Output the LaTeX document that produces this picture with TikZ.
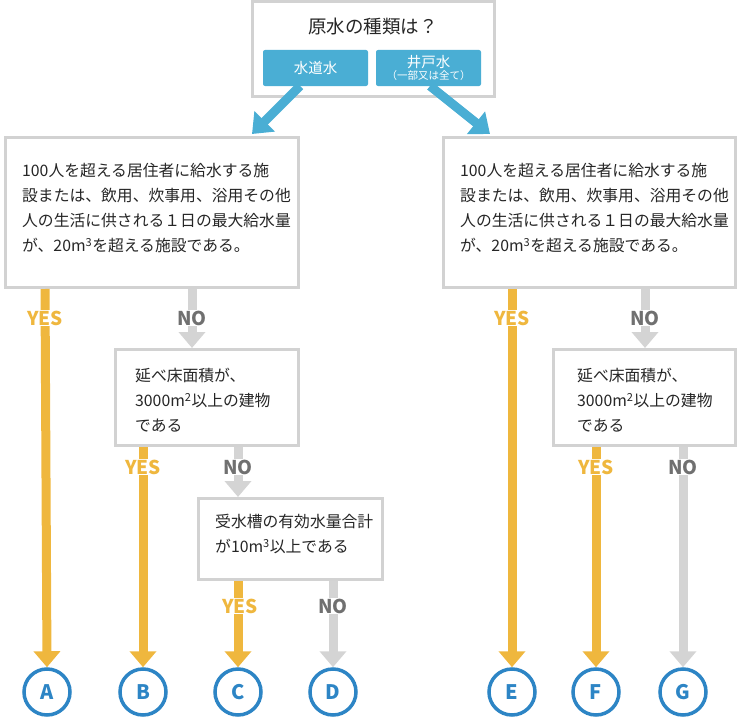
\documentclass[tikz,border=0pt]{standalone}
\usepackage{fontspec}
\setmainfont{Noto Sans CJK JP}
\usetikzlibrary{arrows.meta,positioning}
\definecolor{skyblue}{HTML}{4AAED4}
\definecolor{yesyellow}{HTML}{EFB73E}
\definecolor{nogray}{HTML}{D4D4D4}
\definecolor{labgray}{HTML}{707070}
\definecolor{circblue}{HTML}{2D85C5}
\tikzset{
  qbox/.style={draw=gray!35,line width=3pt,fill=white,inner sep=0pt},
  qtext/.style={align=left,anchor=north west,font=\fontsize{15.8}{25}\selectfont,text=black!85,inner sep=0pt},
  choice/.style={fill=skyblue,text=white,rounded corners=2pt,minimum width=105pt,minimum height=36pt,align=center,font=\fontsize{14.5}{15}\selectfont},
  yesarrow/.style={draw=yesyellow,line width=9pt,-{Triangle[width=26pt,length=16pt]}},
  noarrow/.style={draw=nogray,line width=9pt,-{Triangle[width=26pt,length=16pt]}},
  bluearrow/.style={draw=skyblue,line width=9pt,-{Triangle[width=28pt,length=18pt]}},
  yeslabel/.style={fill=white,text=yesyellow,font=\bfseries\fontsize{19}{19}\selectfont,inner sep=1pt},
  nolabel/.style={fill=white,text=labgray,font=\bfseries\fontsize{19}{19}\selectfont,inner sep=1pt},
  endcircle/.style={circle,draw=circblue,line width=3.5pt,minimum size=46pt,text=circblue,font=\bfseries\fontsize{20}{20}\selectfont}
}
\begin{document}
\begin{tikzpicture}[x=1pt,y=-1pt]
\useasboundingbox (0,0) rectangle (739,725);
% top question
\draw[qbox] (252,2) rectangle (494,96);
\node[font=\fontsize{18.5}{19}\selectfont,text=black!85] (title) at (373,26) {原水の種類は？};
\node[choice] (tap) at (315.5,68) {水道水};
\node[choice,font=\fontsize{14.5}{14}\selectfont] (well) at (428.5,68) {井戸水\\[-2pt]{\fontsize{10.5}{11}\selectfont（一部又は全て）}};
% first level boxes
\draw[qbox] (5,137) rectangle (298,287);
\node[qtext] (qL) at (22,163) {100人を超える居住者に給水する施\\設または、飲用、炊事用、浴用その他\\人の生活に供される１日の最大給水量\\が、20m\textsuperscript{3}を超える施設である。};
\draw[qbox] (443,137) rectangle (735,287);
\node[qtext] (qR) at (460,163) {100人を超える居住者に給水する施\\設または、飲用、炊事用、浴用その他\\人の生活に供される１日の最大給水量\\が、20m\textsuperscript{3}を超える施設である。};
\coordinate (tapS) at (300,86);
\coordinate (tapE) at (252,134);
\coordinate (wellS) at (430,86);
\coordinate (wellE) at (490,134);
\draw[bluearrow] (tapS) -- (tapE);
\draw[bluearrow] (wellS) -- (wellE);
% second level boxes
\draw[qbox] (115,349) rectangle (298,445);
\node[qtext] (aL) at (135,368) {延べ床面積が、\\3000m\textsuperscript{2}以上の建物\\である};
\draw[qbox] (553,349) rectangle (735,445);
\node[qtext] (aR) at (577,368) {延べ床面積が、\\3000m\textsuperscript{2}以上の建物\\である};
% third level box
\draw[qbox] (198,498) rectangle (382,579);
\node[qtext] (tank) at (215,514) {受水槽の有効水量合計\\が10m\textsuperscript{3}以上である};
% end circles
\foreach \name/\x in {A/47,B/143,C/238,D/333,E/512,F/596,G/683}
  \node[endcircle] (\name) at (\x,692) {\name};
% connectors
\coordinate (y1) at (45,289);   \coordinate (n1) at (192,289);
\coordinate (y2) at (143,447);  \coordinate (n2) at (238,447);
\coordinate (y3) at (238,581);  \coordinate (n3) at (333,581);
\coordinate (y4) at (512,289);  \coordinate (n4) at (645,289);
\coordinate (y5) at (596,447);  \coordinate (n5) at (683,447);
\draw[yesarrow] (y1) -- (A.north);
\draw[noarrow] (n1) -- (192,348);
\draw[yesarrow] (y2) -- (B.north);
\draw[noarrow] (n2) -- (238,497);
\draw[yesarrow] (y3) -- (C.north);
\draw[noarrow] (n3) -- (D.north);
\draw[yesarrow] (y4) -- (E.north);
\draw[noarrow] (n4) -- (645,348);
\draw[yesarrow] (y5) -- (F.north);
\draw[noarrow] (n5) -- (G.north);
% labels
\node[yeslabel] at (45,318) {YES};   \node[nolabel] at (192,318) {NO};
\node[yeslabel] at (143,467) {YES};  \node[nolabel] at (238,467) {NO};
\node[yeslabel] at (240,606) {YES};  \node[nolabel] at (333,606) {NO};
\node[yeslabel] at (512,318) {YES};  \node[nolabel] at (645,318) {NO};
\node[yeslabel] at (596,467) {YES};  \node[nolabel] at (683,467) {NO};
\end{tikzpicture}
\end{document}
